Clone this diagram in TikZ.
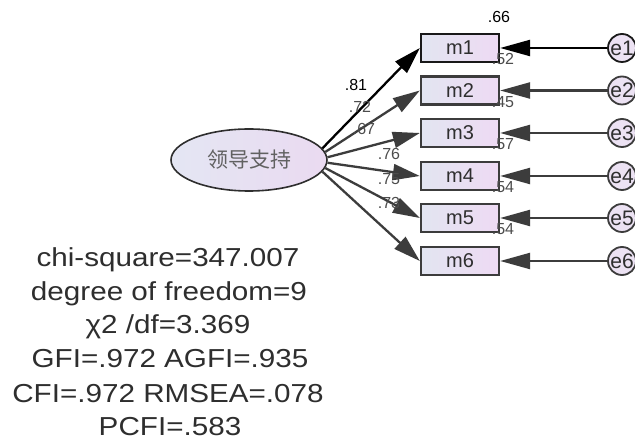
\documentclass[tikz,border=0pt]{standalone}
\usepackage{fontspec}
\setmainfont{Liberation Sans}
\newfontfamily\cjk{Noto Sans CJK SC}
\usetikzlibrary{shapes.geometric,arrows.meta}
\definecolor{ink}{HTML}{3C3C3C}
\definecolor{txt}{HTML}{2E2E2E}
\definecolor{boxl}{HTML}{E2E5F1}
\definecolor{boxr}{HTML}{EEDAF3}
\definecolor{ell}{HTML}{E4E6F3}
\definecolor{elr}{HTML}{EADAF1}
\definecolor{errf}{HTML}{ECE2F3}
\begin{document}
\begin{tikzpicture}[x=1pt,y=-1pt,
  obs/.style={draw=ink, line width=2.3pt, minimum width=78pt, minimum height=28pt,
    left color=boxl, right color=boxr, inner sep=0pt, text=txt,
    font=\fontsize{20}{20}\selectfont},
  err/.style={circle, draw=ink, line width=1.8pt, minimum size=28pt, inner sep=0pt,
    fill=errf, text=txt, font=\fontsize{21}{21}\selectfont},
  lat/.style={ellipse, draw=txt, line width=1.6pt, minimum width=156pt, minimum height=62pt,
    left color=ell, right color=elr, inner sep=0pt, text=black!62,
    font=\cjk\fontsize{21}{21}\selectfont},
  load/.style={draw=ink, line width=2.3pt, -{Triangle[length=27pt,width=16pt]}},
  eload/.style={draw=ink, line width=2.3pt, -{Triangle[length=30pt,width=16pt]}},
  lab/.style={inner sep=0pt, text=txt!85!white, font=\fontsize{16}{16}\selectfont},
  fitline/.style={inner sep=0pt, anchor=base, text=txt, font=\fontsize{26}{26}\selectfont}
]
\useasboundingbox (0,0) rectangle (635,443);
\fill[white] (0,0) rectangle (635,443);

% latent
\node[lat] (F) at (249,160) {领导支持};

% observed
\node[obs, draw=black!90] (m1) at (460,48) {m1};
\node[obs] (m2) at (460,90.5) {m2};
\node[obs] (m3) at (460,133) {m3};
\node[obs] (m4) at (460,176) {m4};
\node[obs] (m5) at (460,218) {m5};
\node[obs] (m6) at (460,261) {m6};

% errors
\node[err, draw=black!90] (e1) at (622,48) {e1};
\node[err] (e2) at (622,90.5) {e2};
\node[err] (e3) at (622,133) {e3};
\node[err] (e4) at (622,176) {e4};
\node[err] (e5) at (622,218) {e5};
\node[err] (e6) at (622,261) {e6};

% loadings
\draw[load, draw=black] (F.9) -- (m1.west);
\draw[load] (F.6) -- (m2.west);
\draw[load] (F.2) -- (m3.west);
\draw[load] (F.-2) -- (m4.west);
\draw[load] (F.-6) -- (m5.west);
\draw[load] (F.-9) -- (m6.west);

% error arrows
\draw[eload, draw=black] (e1) -- (m1.east);
\draw[eload] (e2) -- (m2.east);
\draw[eload] (e3) -- (m3.east);
\draw[eload] (e4) -- (m4.east);
\draw[eload] (e5) -- (m5.east);
\draw[eload] (e6) -- (m6.east);

% loading labels
\node[lab, text=black] (l1) at (356,85) {.81};
\node[lab] (l2) at (360,107) {.72};
\node[lab] (l3) at (364,129) {.67};
\node[lab] (l4) at (389,154) {.76};
\node[lab] (l5) at (389,179) {.75};
\node[lab] (l6) at (389,203) {.73};

% squared multiple correlations
\node[lab, text=black] (r1) at (499,17) {.66};
\node[lab] (r2) at (503,59) {.52};
\node[lab] (r3) at (503,102) {.45};
\node[lab] (r4) at (503,144) {.57};
\node[lab] (r5) at (503,187) {.54};
\node[lab] (r6) at (503,229) {.54};

% fit indices
\node[fitline] (f1) at (168,267) {\scalebox{1.14}[1]{chi-square=347.007}};
\node[fitline] (f2) at (169,301) {\scalebox{1.14}[1]{degree of freedom=9}};
\node[fitline] (f3) at (168,334) {\scalebox{1.14}[1]{χ2 /df=3.369}};
\node[fitline] (f4) at (170,368) {\scalebox{1.14}[1]{GFI=.972 AGFI=.935}};
\node[fitline] (f5) at (168,403) {\scalebox{1.14}[1]{CFI=.972 RMSEA=.078}};
\node[fitline] (f6) at (170,436) {\scalebox{1.14}[1]{PCFI=.583}};
\end{tikzpicture}
\end{document}
